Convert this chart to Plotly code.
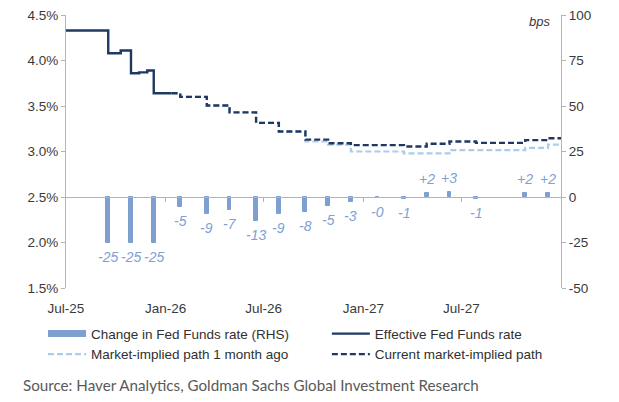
import plotly.graph_objects as go

# ---------------- data ----------------
# FOMC meeting dates and change in Fed Funds rate (bps, RHS)
meeting_dates = ["2025-09-17", "2025-10-29", "2025-12-10", "2026-01-28", "2026-03-18",
                 "2026-04-29", "2026-06-17", "2026-07-29", "2026-09-16", "2026-10-28",
                 "2026-12-09", "2027-01-27", "2027-03-17", "2027-04-28", "2027-06-09",
                 "2027-07-28", "2027-10-27", "2027-12-08"]
change_bps = [-25, -25, -25, -5.3, -9.5, -7.2, -13.3, -9.3, -8, -5, -3,
              -0.6, -1.2, 2, 3, -1.2, 2.2, 2.2]
change_labels = ["-25", "-25", "-25", "-5", "-9", "-7", "-13", "-9", "-8", "-5", "-3",
                 "-0", "-1", "+2", "+3", "-1", "+2", "+2"]

# Effective Fed Funds rate (%), step path
effr_dates = ["2025-07-01", "2025-09-17", "2025-10-10", "2025-10-29", "2025-11-13",
              "2025-11-28", "2025-12-10", "2026-01-12"]
effr_values = [4.33, 4.08, 4.11, 3.86, 3.87, 3.89, 3.64, 3.64]

# Current market-implied path (%)
path_dates = ["2026-01-12", "2026-01-28", "2026-03-18", "2026-04-29", "2026-06-17",
              "2026-07-29", "2026-09-16", "2026-10-28", "2026-12-09", "2027-01-27",
              "2027-03-17", "2027-04-28", "2027-06-09", "2027-07-28", "2027-10-27",
              "2027-12-08", "2028-01-01"]
current_path = [3.64, 3.60, 3.505, 3.43, 3.315, 3.22, 3.13, 3.09, 3.07, 3.07,
                3.055, 3.085, 3.11, 3.095, 3.125, 3.145, 3.145]
# Market-implied path 1 month ago (%)
month_ago_path = [3.64, 3.60, 3.505, 3.43, 3.315, 3.22, 3.11, 3.075, 3.00, 3.00,
                  2.98, 2.98, 3.015, 3.015, 3.04, 3.075, 3.075]

x_tick_dates = ["2025-07-01", "2026-01-01", "2026-07-01", "2027-01-01", "2027-07-01"]
x_tick_labels = ["Jul-25", "Jan-26", "Jul-26", "Jan-27", "Jul-27"]
left_ticks = [1.5, 2.0, 2.5, 3.0, 3.5, 4.0, 4.5]
left_tick_labels = ["1.5%", "2.0%", "2.5%", "3.0%", "3.5%", "4.0%", "4.5%"]
right_ticks = [-50, -25, 0, 25, 50, 75, 100]
right_tick_labels = ["-50", "-25", "0", "25", "50", "75", "100"]

# ---------------- style ----------------
BAR = "#7f9fd0"
LABEL = "#809fd3"
DARK = "#1f3864"
LIGHT = "#a9cdec"
AXIS = "#b4b4b4"
TXT = "#3a3a3a"
FONT = "Liberation Sans, Arial, sans-serif"
DAY_MS = 86400000

fig = go.Figure()

fig.add_trace(go.Bar(
    x=meeting_dates, y=change_bps, xaxis="x2", yaxis="y2",
    width=[7 * DAY_MS] * len(change_bps),
    marker=dict(color=BAR, line=dict(color=BAR, width=1)),
    showlegend=False, hoverinfo="skip"))

# legend proxy for bars
fig.add_trace(go.Scatter(
    x=[None], y=[None], mode="lines", name="Change in Fed Funds rate (RHS)",
    line=dict(color=BAR, width=7), legend="legend", legendrank=1))

fig.add_trace(go.Scatter(
    x=path_dates, y=month_ago_path, mode="lines", line_shape="hv",
    name="Market-implied path 1 month ago",
    line=dict(color=LIGHT, width=2.2, dash="6px,3px"), legend="legend", legendrank=2))

fig.add_trace(go.Scatter(
    x=path_dates, y=current_path, mode="lines", line_shape="hv",
    name="Current market-implied path",
    line=dict(color=DARK, width=2.4, dash="6px,3px"), legend="legend2", legendrank=2))

fig.add_trace(go.Scatter(
    x=effr_dates, y=effr_values, mode="lines", line_shape="hv",
    name="Effective Fed Funds rate",
    line=dict(color=DARK, width=2.4), legend="legend2", legendrank=1))

# bar value labels
for d, v, t in zip(meeting_dates, change_bps, change_labels):
    fig.add_annotation(
        x=d, y=v, xref="x2", yref="y2", text=t, showarrow=False,
        yshift=-14 if v < 0 else 14, yanchor="middle",
        font=dict(family=FONT, size=14, color=LABEL, style="italic"))

fig.add_annotation(
    x=1, y=0.975, xref="paper", yref="paper", xanchor="right", yanchor="middle",
    xshift=-9, text="bps", showarrow=False,
    font=dict(family=FONT, size=13, color=TXT, style="italic"))

fig.add_annotation(
    x=-0.0915, y=-0.355, xref="paper", yref="paper", xanchor="left", yanchor="middle",
    text="Source: Haver Analytics, Goldman Sachs Global Investment Research",
    showarrow=False, font=dict(family="Lato, sans-serif", size=15.2, color="#595959"))

x_range = ["2025-07-01", "2028-01-01"]

legend_common = dict(orientation="v", xanchor="left", y=-0.111, yanchor="top",
                     itemwidth=38, traceorder="normal",
                     font=dict(family=FONT, size=13.5, color="#303030"),
                     bgcolor="rgba(0,0,0,0)", borderwidth=0, tracegroupgap=0)

fig.update_layout(
    width=619, height=402,
    margin=dict(l=66, r=58, t=15, b=114, autoexpand=False),
    paper_bgcolor="white", plot_bgcolor="white",
    font=dict(family=FONT, size=13, color=TXT),
    bargap=0,
    xaxis=dict(type="date", range=x_range, tickvals=x_tick_dates, ticktext=x_tick_labels,
               showline=False, showgrid=False, zeroline=False, ticks="",
               ticklabelstandoff=10, tickfont=dict(size=13.5, color=TXT)),
    xaxis2=dict(type="date", range=x_range, overlaying="x", anchor="free", position=1 / 3,
                tickvals=x_tick_dates[1:], showticklabels=False, showline=True,
                linecolor=AXIS, linewidth=1, ticks="outside", ticklen=4, tickcolor=AXIS,
                showgrid=False, zeroline=False),
    yaxis=dict(range=[1.5, 4.5], tickvals=left_ticks, ticktext=left_tick_labels,
               showline=True, linecolor=AXIS, linewidth=1, ticks="outside", ticklen=4,
               tickcolor=AXIS, showgrid=False, zeroline=False,
               tickfont=dict(size=13.5, color=TXT)),
    yaxis2=dict(range=[-50, 100], overlaying="y", side="right", tickvals=right_ticks,
                ticktext=right_tick_labels, showline=True, linecolor=AXIS, linewidth=1,
                ticks="outside", ticklen=4, tickcolor=AXIS, showgrid=False, zeroline=False,
                tickfont=dict(size=13.5, color=TXT)),
    legend=dict(x=-0.0465, **legend_common),
    legend2=dict(x=0.527, **legend_common),
)

fig.write_html("out.html")
